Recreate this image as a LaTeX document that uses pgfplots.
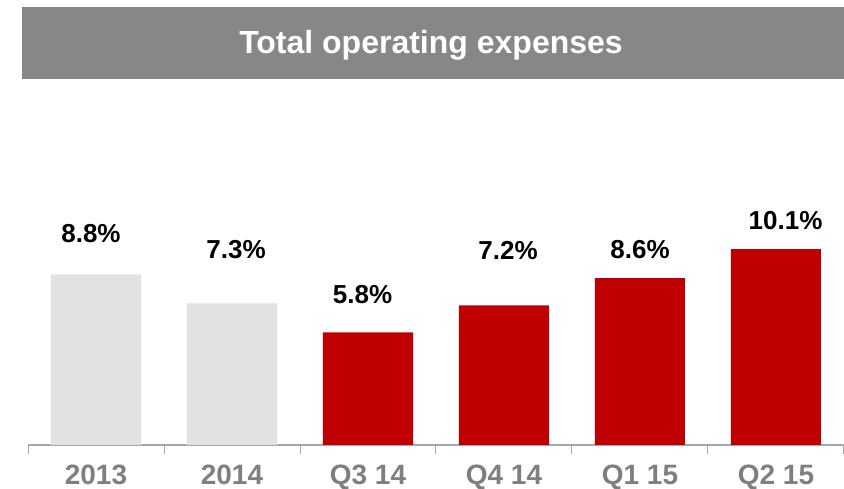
\documentclass[border=0pt]{standalone}
\usepackage{pgfplots}
\pgfplotsset{compat=1.18}
\usepackage{fontspec}
\setmainfont{Liberation Sans}
\definecolor{barred}{HTML}{C00000}
\definecolor{bargray}{HTML}{E2E2E2}
\definecolor{banner}{HTML}{878787}
\definecolor{ticktext}{HTML}{7F7F7F}
\definecolor{axisgray}{HTML}{A6A6A6}
\begin{document}
\begin{tikzpicture}[x=1pt,y=1pt]
\useasboundingbox (0,0) rectangle (844,489);
\fill[banner] (22,410) rectangle (844,482);
\node[text=white, font=\fontsize{32}{36}\selectfont\bfseries] at (431,443.5) {Total operating expenses};
\begin{axis}[
  at={(28pt,44pt)}, anchor=south west,
  scale only axis, width=816pt, height=232.8pt,
  xmin=-0.5, xmax=5.5, ymin=0, ymax=12,
  axis x line*=bottom, axis y line=none,
  axis line style={axisgray, line width=1.2pt},
  xtick={0,...,5}, xticklabels={2013,2014,Q3 14,Q4 14,Q1 15,Q2 15},
  major tick length=0pt,
  minor xtick={-0.5,0.5,1.5,2.5,3.5,4.5,5.5},
  minor tick length=9pt,
  tick align=outside,
  minor tick style={axisgray, line width=1pt},
  xticklabel style={font=\fontsize{28}{32}\selectfont\bfseries, text=ticktext, anchor=north, inner sep=0pt, yshift=-20pt},
  ybar, bar width=90pt,
  clip=false,
]
\addplot[fill=bargray, draw=none, bar shift=0pt] coordinates {(0,8.8) (1,7.3)};
\addplot[fill=barred, draw=none, bar shift=0pt] coordinates {(2,5.8) (3,7.2) (4,8.6) (5,10.1)};
\tikzset{vlab/.style={font=\fontsize{26}{30}\selectfont\bfseries, text=black, inner sep=0pt}}
\node[vlab] at (axis cs:-0.037,10.88) {8.8\%};
\node[vlab] at (axis cs:1.03,10.05) {7.3\%};
\node[vlab] at (axis cs:1.96,7.78) {5.8\%};
\node[vlab] at (axis cs:3.03,10.0) {7.2\%};
\node[vlab] at (axis cs:4.0,10.10) {8.6\%};
\node[vlab] at (axis cs:5.07,11.55) {10.1\%};
\end{axis}
\end{tikzpicture}
\end{document}
